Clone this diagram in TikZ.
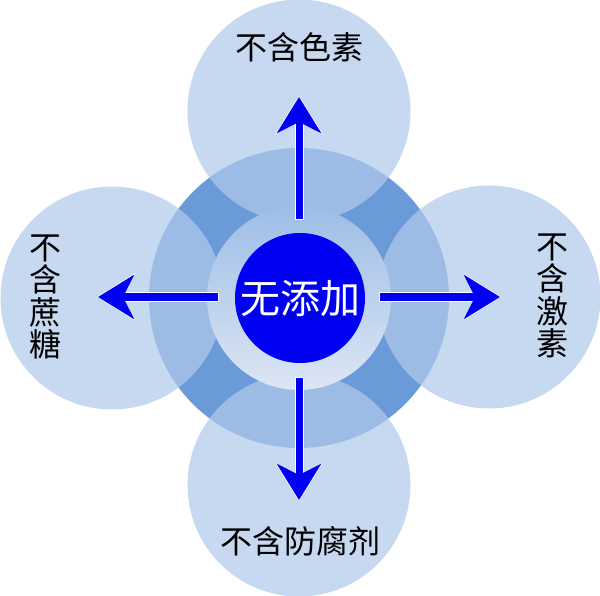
\documentclass[tikz,border=0pt]{standalone}
\usepackage{fontspec}
\newfontfamily\cjk{Noto Sans CJK SC}
\usetikzlibrary{arrows.meta}
\definecolor{ringdark}{HTML}{6A9BD8}
\definecolor{petal}{HTML}{B0CAEC}
\definecolor{innertop}{HTML}{9EBDE6}
\definecolor{innerbot}{HTML}{DCE6F4}
\definecolor{hubblue}{RGB}{0,0,242}
\tikzset{
  petalc/.style={circle, minimum size=223pt, inner sep=0pt, fill=petal, fill opacity=0.72},
  lbl/.style={font=\cjk\fontsize{32}{32.5}\selectfont, text=black, align=center, inner sep=0pt},
  arrw/.style={draw=hubblue, line width=7pt, -{Stealth[length=36pt,width=44pt,inset=11pt]}},
  arrwbg/.style={draw=white, line width=9pt, -{Stealth[length=38pt,width=47pt,inset=12pt]}},
}
\begin{document}
\begin{tikzpicture}[x=1pt,y=-1pt]
\useasboundingbox (0,0) rectangle (600,596);
% middle ring
\node[circle, minimum size=300pt, inner sep=0pt, fill=ringdark] (ring) at (299,298) {};
% outer petals
\node[petalc] (ptop) at (299,111) {};
\node[petalc] (pleft) at (112,298) {};
\node[petalc] (pright) at (489,297) {};
\node[petalc] (pbot) at (299,485) {};
% inner gradient circle
\shade[top color=innertop, bottom color=innerbot] (299,298) circle (92);
\node[circle, minimum size=184pt, inner sep=0pt] (inner) at (299,298) {};
% hub
\node[circle, minimum size=130pt, inner sep=0pt, fill=hubblue, text=white, font=\cjk\fontsize{40}{44}\selectfont] (hub) at (300,298) {无添加};
% arrow coordinates
\coordinate (us) at (299,219); \coordinate (ut) at (299,97);
\coordinate (ds) at (299,378); \coordinate (dt) at (299,500);
\coordinate (ls) at (218,297); \coordinate (lt) at (98,297);
\coordinate (rs) at (380,297); \coordinate (rt) at (500,297);
\coordinate (us2) at (299,220); \coordinate (ut2) at (299,96);
\coordinate (ds2) at (299,377); \coordinate (dt2) at (299,501);
\coordinate (ls2) at (219,297); \coordinate (lt2) at (97,297);
\coordinate (rs2) at (379,297); \coordinate (rt2) at (501,297);
% white borders
\draw[arrwbg] (us2) -- (ut2);
\draw[arrwbg] (ds2) -- (dt2);
\draw[arrwbg] (ls2) -- (lt2);
\draw[arrwbg] (rs2) -- (rt2);
% arrows
\draw[arrw] (us) -- (ut);
\draw[arrw] (ds) -- (dt);
\draw[arrw] (ls) -- (lt);
\draw[arrw] (rs) -- (rt);
% labels
\node[lbl] (ltop) at (299,47) {不含色素};
\node[lbl] (lbot) at (300,541) {不含防腐剂};
\node[lbl] (lleft) at (45,297) {不\\含\\蔗\\糖};
\node[lbl] (lright) at (552,296) {不\\含\\激\\素};
\end{tikzpicture}
\end{document}
